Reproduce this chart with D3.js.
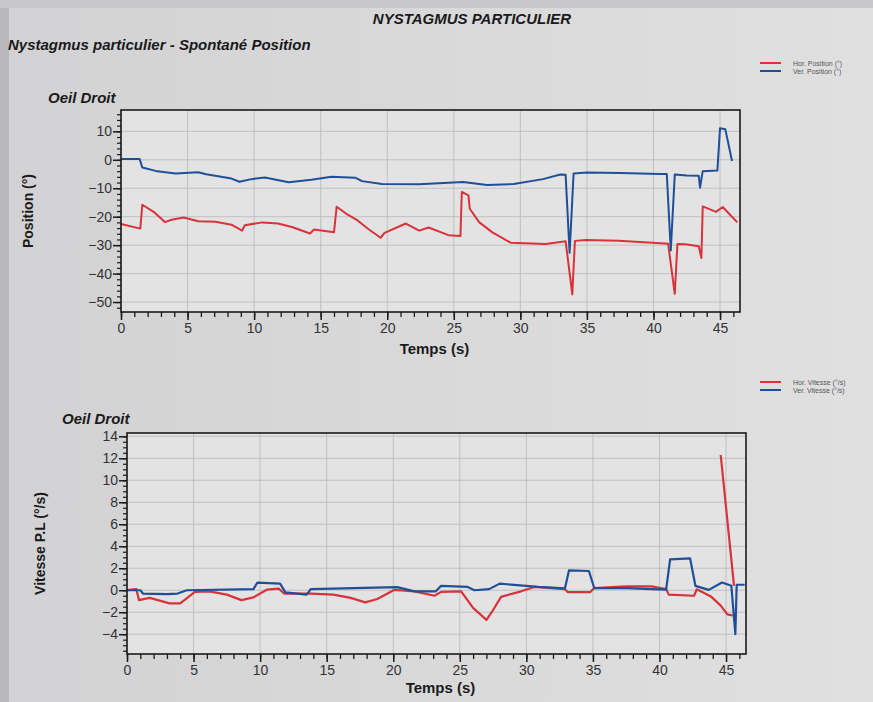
<!DOCTYPE html>
<html>
<head>
<meta charset="utf-8">
<script src="https://cdn.jsdelivr.net/npm/d3@7"></script>
<style>
  html, body { margin: 0; padding: 0; background: #d8d8d8; }
  svg { display: block; }
</style>
</head>
<body>
<div id="chart"></div>
<script>
// position chart (Oeil Droit), time in s, value in degrees
const posHorTime = [0, 1.45, 1.6, 2.45, 3.3, 3.8, 4.7, 5.8, 7.1, 8.3, 9.1, 9.3, 10.6, 11.8, 12.9, 14.2, 14.5, 16.0, 16.2, 16.9, 17.8, 18.6, 19.5, 19.8, 21.4, 22.4, 23.1, 24.6, 25.5, 25.6, 26.1, 26.2, 26.9, 27.9, 29.3, 31.9, 33.4, 33.9, 34.1, 34.9, 37.4, 39.9, 41.1, 41.6, 41.8, 42.4, 43.4, 43.6, 43.7, 44.7, 45.2, 46.3];
const posHorVal = [-22.6, -24.2, -15.8, -18.3, -21.9, -21.1, -20.3, -21.6, -21.8, -22.8, -24.9, -23.0, -22.0, -22.4, -23.7, -25.9, -24.5, -25.5, -16.5, -18.9, -21.4, -24.4, -27.4, -25.7, -22.4, -24.9, -23.8, -26.5, -26.8, -11.3, -12.5, -17.2, -21.9, -25.5, -29.2, -29.6, -28.6, -47.3, -28.5, -28.2, -28.5, -29.2, -29.5, -47.1, -29.6, -29.7, -30.4, -34.5, -16.4, -18.3, -16.6, -22.0];
const posVerTime = [0, 1.4, 1.6, 2.6, 4.1, 5.8, 6.4, 8.3, 8.9, 9.8, 10.8, 12.6, 14.3, 15.8, 17.6, 18.1, 19.6, 22.4, 25.7, 27.5, 29.5, 31.7, 33.0, 33.4, 33.7, 34.0, 35.0, 37.5, 40.5, 41.0, 41.3, 41.6, 42.5, 43.4, 43.5, 43.7, 44.8, 45.0, 45.4, 45.9];
const posVerVal = [0.3, 0.3, -2.7, -3.9, -4.8, -4.4, -5.1, -6.6, -7.7, -6.8, -6.2, -7.9, -7.0, -6.0, -6.3, -7.5, -8.5, -8.6, -7.8, -8.9, -8.5, -6.8, -5.2, -5.3, -32.7, -4.8, -4.5, -4.6, -5.0, -5.0, -31.9, -5.2, -5.5, -5.6, -9.8, -4.0, -3.8, 11.1, 10.7, -0.4];

// slow phase velocity chart, value in deg/s (null = gap in the trace)
const velHorTime = [0, 0.7, 0.9, 1.7, 3.2, 4.0, 5.1, 6.2, 7.5, 8.6, 9.5, 10.5, 11.4, 11.8, 13.8, 15.5, 16.8, 17.9, 18.8, 20.1, 21.6, 23.1, 23.6, 25.1, 26.0, 27.0, 27.4, 28.1, 29.6, 30.6, 32.9, 33.1, 34.8, 35.1, 37.5, 39.4, 40.5, 40.7, 42.6, 42.8, 43.9, 44.6, 45.1, 45.5, null, 44.6, 45.6];
const velHorVal = [0, 0.1, -0.9, -0.7, -1.2, -1.2, -0.16, -0.1, -0.4, -0.9, -0.65, 0.05, 0.15, -0.3, -0.3, -0.4, -0.7, -1.1, -0.8, 0.04, -0.1, -0.5, -0.15, -0.1, -1.6, -2.7, -2.0, -0.6, -0.1, 0.3, 0.1, -0.17, -0.17, 0.2, 0.35, 0.35, 0.1, -0.4, -0.5, 0.08, -0.6, -1.4, -2.2, -2.3, null, 12.3, 0.4];
const velVerTime = [0, 1.0, 1.2, 3.0, 3.8, 4.5, 9.5, 9.8, 11.5, 11.9, 13.5, 13.8, 20.3, 21.6, 23.2, 23.6, 25.6, 26.1, 27.2, 28.0, 30.9, 32.9, 33.2, 34.7, 35.1, 37.6, 39.4, 40.5, 40.8, 42.3, 42.7, 43.7, 44.7, 45.4, 45.7, 45.8, 46.4];
const velVerVal = [0, 0, -0.3, -0.35, -0.3, 0, 0.1, 0.7, 0.6, -0.2, -0.4, 0.1, 0.28, -0.1, -0.1, 0.4, 0.3, 0.0, 0.1, 0.6, 0.3, 0.17, 1.8, 1.75, 0.2, 0.2, 0.1, 0.05, 2.8, 2.9, 0.4, 0.03, 0.7, 0.4, -4.0, 0.5, 0.5];

const timeTicks = [0, 5, 10, 15, 20, 25, 30, 35, 40, 45];
const posTicks = [10, 0, -10, -20, -30, -40, -50];
const velTicks = [14, 12, 10, 8, 6, 4, 2, 0, -2, -4];

const RED = "#d8323a";
const BLUE = "#1f4f98";
const width = 873, height = 702;

const svg = d3.select("#chart")
  .append("svg")
  .attr("width", width)
  .attr("height", height)
  .style("font-family", "'Liberation Sans', Arial, sans-serif");

const defs = svg.append("defs");
const grad = defs.append("linearGradient").attr("id", "paper")
  .attr("x1", "0").attr("x2", "1").attr("y1", "0").attr("y2", "0");
grad.append("stop").attr("offset", "0").attr("stop-color", "#d2d2d4");
grad.append("stop").attr("offset", "1").attr("stop-color", "#e0e0e0");

svg.append("rect").attr("width", width).attr("height", height).attr("fill", "url(#paper)");
svg.append("rect").attr("x", 0).attr("y", 0).attr("width", 9).attr("height", height).attr("fill", "#b9b9bb");
svg.append("rect").attr("x", 0).attr("y", 0).attr("width", width).attr("height", 8).attr("fill", "#c8c8ca");

// titles
svg.append("text")
  .attr("x", 472).attr("y", 24)
  .attr("text-anchor", "middle")
  .style("font-size", "15px").style("font-weight", "bold").style("font-style", "italic")
  .attr("fill", "#1a1a1a")
  .text("NYSTAGMUS PARTICULIER");

svg.append("text")
  .attr("x", 8).attr("y", 50)
  .style("font-size", "15px").style("font-weight", "bold").style("font-style", "italic")
  .attr("fill", "#1a1a1a")
  .text("Nystagmus particulier - Spontané Position");

function legend(y, labels) {
  const g = svg.append("g");
  [RED, BLUE].forEach((c, i) => {
    g.append("line")
      .attr("x1", 760).attr("x2", 781)
      .attr("y1", y + i * 8).attr("y2", y + i * 8)
      .attr("stroke", c).attr("stroke-width", 2);
    g.append("text")
      .attr("x", 793).attr("y", y + i * 8 + 2.5)
      .style("font-size", "7px")
      .attr("fill", "#555")
      .text(labels[i]);
  });
}

function makePanel(opts) {
  const { left, right, top, bottom, xDomain, yDomain, yTicks, yMinor, yLabel, title, titleX, titleY, series, xLabelY } = opts;
  const x = d3.scaleLinear().domain(xDomain).range([left, right]);
  const y = d3.scaleLinear().domain(yDomain).range([bottom, top]);

  svg.append("rect")
    .attr("x", left).attr("y", top)
    .attr("width", right - left).attr("height", bottom - top)
    .attr("fill", "#e3e3e4");

  // grid
  const grid = svg.append("g").attr("stroke", "#b8b8bc").attr("stroke-width", 0.8);
  timeTicks.forEach(t => {
    grid.append("line")
      .attr("x1", x(t)).attr("x2", x(t))
      .attr("y1", top).attr("y2", bottom);
  });
  yTicks.forEach(v => {
    grid.append("line")
      .attr("x1", left).attr("x2", right)
      .attr("y1", y(v)).attr("y2", y(v));
  });

  // traces
  const clipId = "clip" + top;
  defs.append("clipPath").attr("id", clipId)
    .append("rect").attr("x", left).attr("y", top)
    .attr("width", right - left).attr("height", bottom - top);

  const line = d3.line()
    .defined(d => d[0] !== null && d[1] !== null)
    .x(d => x(d[0]))
    .y(d => y(d[1]));

  series.forEach(s => {
    const pts = s.time.map((t, i) => [t, s.val[i]]);
    svg.append("path")
      .datum(pts)
      .attr("d", line)
      .attr("fill", "none")
      .attr("stroke", s.color)
      .attr("stroke-width", s.width || 2)
      .attr("stroke-linejoin", "round")
      .attr("clip-path", `url(#${clipId})`);
  });

  // frame
  svg.append("rect")
    .attr("x", left).attr("y", top)
    .attr("width", right - left).attr("height", bottom - top)
    .attr("fill", "none").attr("stroke", "#1a1a1a").attr("stroke-width", 1.6);

  // axes
  const xMinor = d3.range(0, xDomain[1], 1);
  svg.append("g")
    .attr("transform", `translate(0,${bottom})`)
    .call(d3.axisBottom(x).tickValues(xMinor).tickSize(5).tickFormat(""))
    .call(g => g.select(".domain").remove())
    .call(g => g.selectAll("line").attr("stroke", "#1a1a1a").attr("stroke-width", 1.3));

  svg.append("g")
    .attr("transform", `translate(0,${bottom})`)
    .call(d3.axisBottom(x).tickValues(timeTicks).tickSize(8).tickPadding(3).tickFormat(d3.format("d")))
    .call(g => g.select(".domain").remove())
    .call(g => g.selectAll("line").attr("stroke", "#1a1a1a").attr("stroke-width", 1.5))
    .call(g => g.selectAll("text").attr("fill", "#333").style("font-size", "14px"));

  svg.append("g")
    .attr("transform", `translate(${left},0)`)
    .call(d3.axisLeft(y).tickValues(yMinor).tickSize(4).tickFormat(""))
    .call(g => g.select(".domain").remove())
    .call(g => g.selectAll("line").attr("stroke", "#1a1a1a").attr("stroke-width", 1.2));

  svg.append("g")
    .attr("transform", `translate(${left},0)`)
    .call(d3.axisLeft(y).tickValues(yTicks).tickSize(8).tickPadding(1).tickFormat(d3.format("d")))
    .call(g => g.select(".domain").remove())
    .call(g => g.selectAll("line").attr("stroke", "#1a1a1a").attr("stroke-width", 1.5))
    .call(g => g.selectAll("text").attr("fill", "#333").style("font-size", "14px"));

  svg.append("text")
    .attr("x", (left + right) / 2 + 4).attr("y", xLabelY)
    .attr("text-anchor", "middle")
    .style("font-size", "15px").style("font-weight", "bold")
    .attr("fill", "#1a1a1a")
    .text("Temps (s)");

  svg.append("text")
    .attr("transform", `translate(${opts.yLabelX},${(top + bottom) / 2}) rotate(-90)`)
    .attr("text-anchor", "middle")
    .style("font-size", "14px").style("font-weight", "bold")
    .attr("fill", "#1a1a1a")
    .text(yLabel);

  svg.append("text")
    .attr("x", titleX).attr("y", titleY)
    .style("font-size", "15px").style("font-weight", "bold").style("font-style", "italic")
    .attr("fill", "#1a1a1a")
    .text(title);
}

legend(63, ["Hor. Position (°)", "Ver. Position (°)"]);
legend(382, ["Hor. Vitesse (°/s)", "Ver. Vitesse (°/s)"]);

makePanel({
  left: 121, right: 740, top: 110, bottom: 312,
  xDomain: [0, 46.5], yDomain: [-53.5, 17.5],
  yTicks: posTicks, yMinor: d3.range(-52, 18, 2),
  yLabel: "Position (°)", yLabelX: 33,
  title: "Oeil Droit", titleX: 48, titleY: 103,
  xLabelY: 354,
  series: [
    { time: posHorTime, val: posHorVal, color: RED },
    { time: posVerTime, val: posVerVal, color: BLUE }
  ]
});

makePanel({
  left: 127, right: 746, top: 433, bottom: 654,
  xDomain: [0, 46.5], yDomain: [-5.8, 14.3],
  yTicks: velTicks, yMinor: d3.range(-5.5, 14.3, 0.5),
  yLabel: "Vitesse P.L (°/s)", yLabelX: 45,
  title: "Oeil Droit", titleX: 62, titleY: 424,
  xLabelY: 693,
  series: [
    { time: velHorTime, val: velHorVal, color: RED, width: 2.2 },
    { time: velVerTime, val: velVerVal, color: BLUE, width: 2.2 }
  ]
});
</script>
</body>
</html>
